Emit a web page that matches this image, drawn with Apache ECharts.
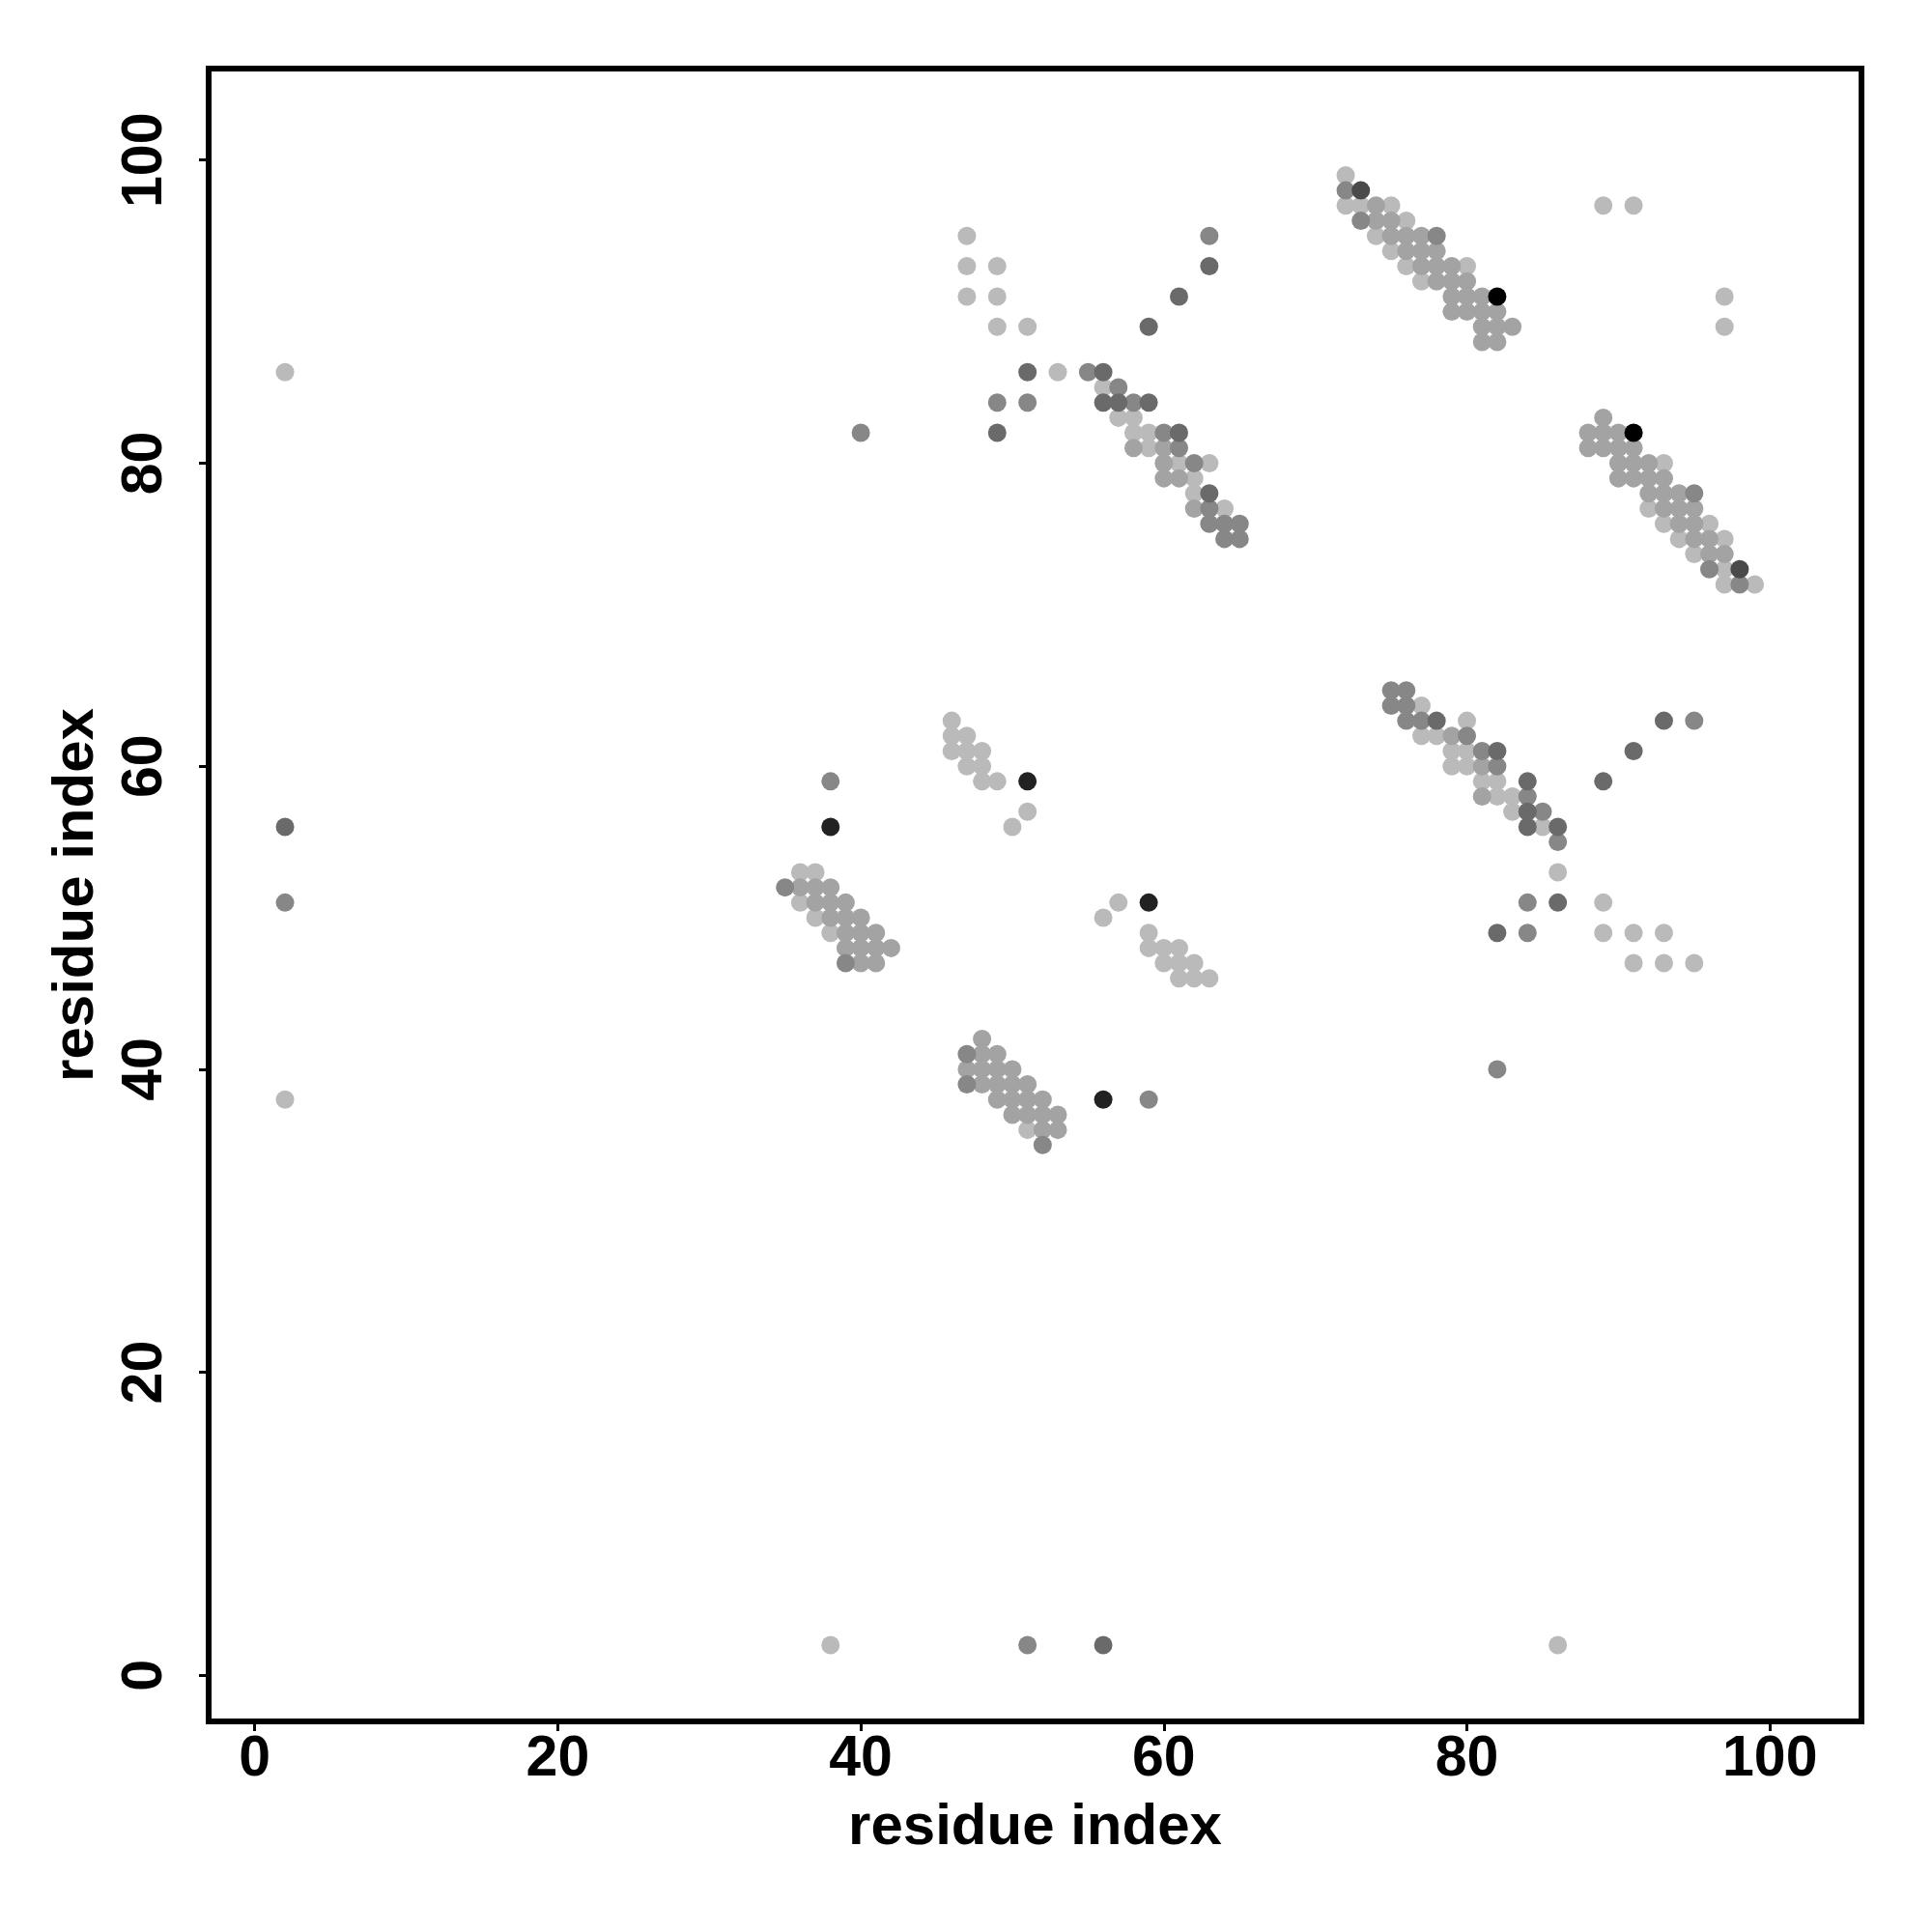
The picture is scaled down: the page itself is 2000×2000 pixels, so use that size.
<!DOCTYPE html>
<html>
<head>
<meta charset="utf-8">
<script src="https://cdn.jsdelivr.net/npm/echarts@6/dist/echarts.min.js"></script>
<style>html,body{margin:0;padding:0;background:#fff}#chart{width:2000px;height:2000px}</style>
</head>
<body>
<div id="chart"></div>
<script>
// ---- data ----
const tickValues = [0, 20, 40, 60, 80, 100];
const axisTitleX = 'residue index';
const axisTitleY = 'residue index';

const lightPoints = [
  [2,86],[2,38],[38,2],[86,2],
  [72,99],[72,97],[73,97],[75,97],[76,96],[74,95],[75,94],[76,93],[80,93],[77,92],
  [93,80],[92,77],[93,76],[94,75],[97,75],[95,74],[97,73],[97,72],[99,72],[96,76],
  [53,86],[56,85],[57,83],[58,83],[58,82],[59,82],[59,81],[61,80],[63,80],[62,79],[62,78],[64,77],
  [77,64],[80,63],[77,62],[78,62],[79,61],[80,61],[79,60],[80,60],[81,59],[82,59],[82,58],[83,58],[83,57],[85,56],[86,53],
  [36,53],[37,53],[36,51],[37,50],[38,49],
  [51,36],
  [46,63],[46,62],[47,62],[46,61],[47,61],[48,61],[47,60],[48,60],[48,59],[49,59],[51,57],[50,56],
  [57,51],[56,50],[59,49],[59,48],[60,48],[61,48],[60,47],[61,47],[62,47],[61,46],[62,46],[63,46],
  [47,95],[47,93],[49,93],[47,91],[49,91],[49,89],[51,89],
  [89,51],[89,49],[91,49],[93,49],[91,47],[93,47],[95,47],
  [89,97],[91,97],[97,91],[97,89]
];

const mediumPoints = [
  [74,97],[74,96],[75,96],[75,95],[76,95],[77,95],[76,94],[77,94],[78,94],[77,93],[78,93],[79,93],
  [78,92],[79,92],[80,92],[79,91],[80,91],[81,91],[79,90],[80,90],[81,90],[82,90],[81,89],[82,89],[83,89],[81,88],[82,88],
  [89,83],[88,82],[89,82],[90,82],[88,81],[89,81],[90,81],[91,81],[90,80],[91,80],[92,80],[90,79],[91,79],[92,79],[93,79],
  [92,78],[93,78],[94,78],[93,77],[94,77],[95,77],[94,76],[95,76],[95,75],[96,75],[96,74],[97,74],
  [58,81],[60,81],[60,80],[60,79],[61,79],[62,77],
  [79,62],[81,60],[81,58],
  [36,52],[37,52],[38,52],[37,51],[38,51],[39,51],[38,50],[39,50],[40,50],[39,49],[40,49],[41,49],
  [39,48],[40,48],[41,48],[42,48],[40,47],[41,47],
  [48,42],[48,41],[49,41],[47,40],[48,40],[49,40],[50,40],[48,39],[49,39],[50,39],[51,39],
  [49,38],[50,38],[51,38],[52,38],[50,37],[51,37],[52,37],[53,37],[52,36],[53,36]
];

const grayPoints = [
  [2,51],[51,2],
  [72,98],[73,96],[78,95],
  [95,78],[96,73],[98,72],
  [55,86],[57,85],[58,84],[60,82],[61,81],[62,80],[63,77],[63,76],[64,76],[65,76],[64,75],[65,75],
  [75,65],[76,65],[75,64],[76,64],[76,63],[77,63],[80,62],[81,61],[82,60],[84,58],[85,57],[86,55],
  [51,84],[49,84],[40,82],[84,51],[84,49],[82,40],
  [35,52],[39,47],[47,41],[47,39],[52,35],
  [38,59],[59,38],[63,95],[95,63]
];

const darkPoints = [
  [2,56],[56,2],
  [56,86],[56,84],[57,84],[59,84],[61,82],[63,78],
  [78,63],[82,61],[84,59],[84,57],[84,56],[86,56],
  [51,86],[49,82],[86,51],[82,49],
  [63,93],[61,91],[59,89],[93,63],[91,61],[89,59]
];

const darkerPoints = [[73,98],[98,73]];
const nearBlackPoints = [[38,56],[56,38],[51,59],[59,51]];
const blackPoints = [[82,91],[91,82]];

// ---- chart ----
const FONT = 'Liberation Sans';
const shades = [
  {name: 'light', data: lightPoints, color: '#bababa'},
  {name: 'medium', data: mediumPoints, color: '#a3a3a3'},
  {name: 'gray', data: grayPoints, color: '#878787'},
  {name: 'dark', data: darkPoints, color: '#6a6a6a'},
  {name: 'darker', data: darkerPoints, color: '#4a4a4a'},
  {name: 'nearblack', data: nearBlackPoints, color: '#222222'},
  {name: 'black', data: blackPoints, color: '#000000'}
];

const chart = echarts.init(document.getElementById('chart'), null, {renderer: 'canvas'});

function makeAxis(isX) {
  return {
    type: 'value',
    min: -3.04,
    max: 106.04,
    name: isX ? axisTitleX : axisTitleY,
    nameLocation: 'middle',
    nameGap: isX ? 80 : 107,
    nameRotate: isX ? 0 : 90,
    nameTextStyle: {fontFamily: FONT, fontWeight: 'bold', fontSize: 60, color: '#000'},
    axisLine: {show: false, onZero: false},
    splitLine: {show: false},
    axisTick: {
      show: true,
      inside: false,
      length: 10,
      customValues: tickValues,
      lineStyle: {color: '#000', width: 3}
    },
    axisLabel: {
      show: true,
      customValues: tickValues,
      margin: isX ? 10 : 36,
      rotate: isX ? 0 : 90,
      fontFamily: FONT,
      fontWeight: 'bold',
      fontSize: 59,
      color: '#000'
    }
  };
}

chart.setOption({
  animation: false,
  backgroundColor: '#fff',
  grid: {
    left: 216, top: 71, right: 73, bottom: 218,
    show: true,
    borderColor: '#000',
    borderWidth: 6,
    backgroundColor: 'transparent',
    containLabel: false
  },
  xAxis: makeAxis(true),
  yAxis: makeAxis(false),
  series: shades.map(s => ({
    name: s.name,
    type: 'scatter',
    data: s.data,
    symbol: 'circle',
    symbolSize: 19,
    itemStyle: {color: s.color, opacity: 1},
    emphasis: {disabled: true},
    silent: true
  }))
});
</script>
</body>
</html>
